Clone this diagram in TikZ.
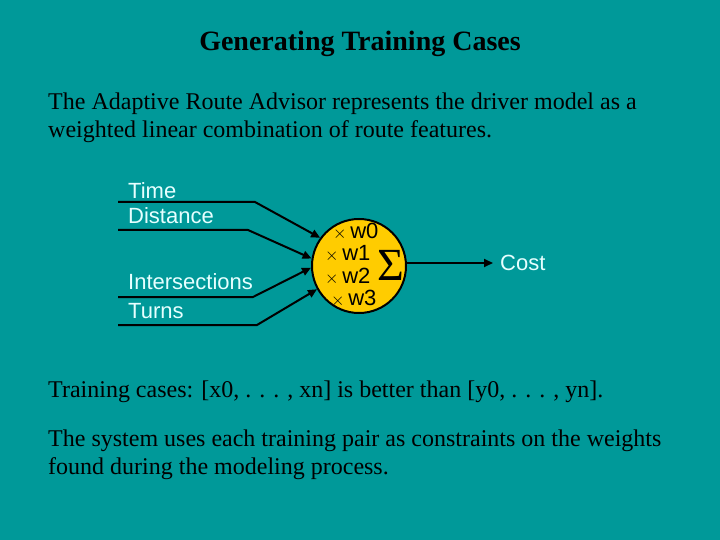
\documentclass[tikz,border=0pt]{standalone}
\usepackage{fontspec}
\setmainfont{Liberation Serif}
\newfontfamily\arialfont{Liberation Sans}
\usetikzlibrary{arrows.meta}
\definecolor{bgteal}{RGB}{0,153,153}
\definecolor{gold}{RGB}{255,204,0}
\definecolor{labelcol}{RGB}{230,255,255}
\begin{document}
\begin{tikzpicture}[x=1pt,y=-1pt,
  body/.style={anchor=base west,inner sep=0pt,font=\fontsize{24}{28}\selectfont},
  lab/.style={anchor=base west,inner sep=0pt,text=labelcol,font=\arialfont\fontsize{22}{26}\selectfont},
  wt/.style={anchor=base west,inner sep=0pt,text=black,font=\arialfont\fontsize{22}{26}\selectfont},
  feed/.style={line width=2pt,-{Triangle[length=9pt,width=8pt]}}]
\fill[bgteal] (0,0) rectangle (720,540);
\useasboundingbox (0,0) rectangle (720,540);
\node[anchor=base,inner sep=0pt,font=\bfseries\fontsize{28}{32}\selectfont] (title) at (360,51) {Generating Training Cases};
\node[body] (p1a) at (48,110) {The Adaptive Route Advisor represents the driver model as a};
\node[body] (p1b) at (48,138) {weighted linear combination of route features.};
\node[body] (p2) at (48,397) {Training cases: [x0, . . . , xn] is better than [y0, . . . , yn].};
\node[body] (p3a) at (48,446) {The system uses each training pair as constraints on the weights};
\node[body] (p3b) at (48,474) {found during the modeling process.};
% labels
\node[lab] (time) at (128,199) {Time};
\node[lab] (dist) at (128,224) {Distance};
\node[lab] (inter) at (128,289) {Intersections};
\node[lab] (turns) at (128,318) {Turns};
% circle
\node[circle,draw=black,line width=2pt,fill=gold,minimum size=94pt,inner sep=0pt] (sum) at (359,266) {};
\node[wt] (w0) at (333,239) {{\fontsize{16}{16}\selectfont$\times$}\,w0};
\node[wt] (w1) at (325,260) {{\fontsize{16}{16}\selectfont$\times$}\,w1};
\node[wt] (w2) at (325,283) {{\fontsize{16}{16}\selectfont$\times$}\,w2};
\node[wt] (w3) at (331,305) {{\fontsize{16}{16}\selectfont$\times$}\,w3};
\node[anchor=base west,inner sep=0pt,font=\fontsize{46}{46}\selectfont] (sig) at (377,280) {Σ};
% connectors
\coordinate (t0) at (118,202); \coordinate (t1) at (255,202);
\coordinate (d0) at (118,230); \coordinate (d1) at (248,230);
\coordinate (i0) at (118,297); \coordinate (i1) at (253,297);
\coordinate (u0) at (118,325); \coordinate (u1) at (257,325);
\draw[feed] (t0) -- (t1) -- (sum.144);
\draw[feed] (d0) -- (d1) -- (sum.171);
\draw[feed] (i0) -- (i1) -- (sum.182);
\draw[feed] (u0) -- (u1) -- (sum.209);
\node[lab,anchor=west] (cost) at (500,263) {Cost};
\coordinate (ctip) at (493,263);
\draw[feed] (sum.east |- ctip) -- (ctip);
\end{tikzpicture}
\end{document}
